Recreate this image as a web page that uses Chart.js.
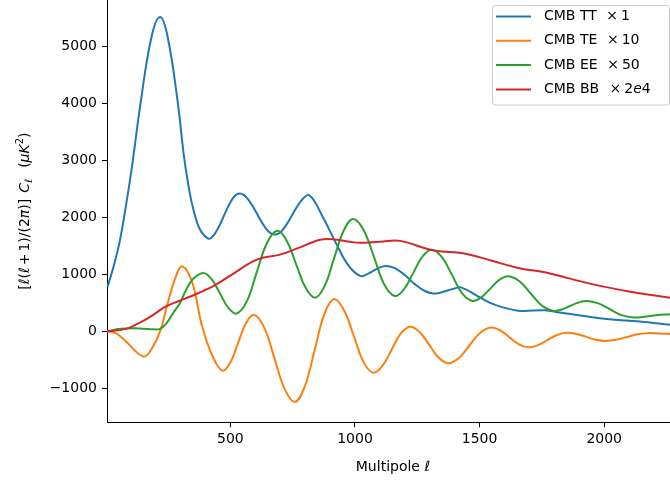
<!DOCTYPE html>
<html><head><meta charset="utf-8">
<script src="https://cdn.jsdelivr.net/npm/chart.js@4.4.0/dist/chart.umd.min.js"></script>
<style>html,body{margin:0;padding:0;background:#fff;overflow:hidden}#wrap{position:relative;width:670px;height:482px}</style>
</head><body><div id="wrap"><canvas id="c" width="670" height="482"></canvas></div>
<script>
const ttEll=[7,30,55,80,104,140,184,218,248,289,321,365,411,442,505,536,572,643,679,713,783,817,873,927,975,1020,1047,1100,1127,1160,1200,1240,1280,1314,1342,1400,1428,1500,1560,1655,1762,1822,2010,2143,2264];
const ttVal=[780,1120,1560,2180,2857,4019,5180,5520,5180,4019,2857,1928,1630,1746,2305,2421,2315,1806,1700,1801,2289,2390,1990,1520,1150,975,1001,1124,1150,1110,990,830,710,665,680,755,770,600,470,365,372,331,216,174,117];
const teEll=[2,40,77,151,185,218,250,280,307,347,386,428,468,500,531,563,595,636,677,718,759,798,838,877,916,955,995,1034,1073,1110,1147,1184,1221,1259,1298,1336,1374,1417,1460,1503,1546,1583,1620,1658,1695,1734,1772,1811,1850,1889,1928,1966,2005,2047,2090,2132,2175,2220,2264];
const teVal=[0,-30,-160,-441,-300,0,520,950,1144,860,100,-430,-690,-546,-200,147,291,67,-473,-1013,-1237,-972,-333,305,570,380,-77,-535,-725,-607,-321,-36,82,-12,-237,-463,-557,-465,-243,-22,70,19,-104,-228,-279,-242,-152,-62,-25,-46,-96,-147,-168,-148,-99,-50,-30,-35,-45];
const eeEll=[2,60,120,180,218,245,270,298,320,350,391,424,458,491,525,566,606,647,688,726,764,802,840,878,916,955,993,1035,1077,1118,1160,1197,1234,1271,1308,1349,1390,1430,1471,1507,1543,1579,1615,1660,1705,1751,1796,1830,1863,1897,1930,1977,2023,2070,2117,2160,2210,2264];
const eeVal=[0,45,57,40,45,150,320,500,710,920,1028,923,671,418,314,527,1040,1553,1766,1594,1179,765,593,795,1284,1772,1975,1777,1298,820,622,741,1028,1316,1435,1303,985,667,535,599,752,906,970,881,665,449,360,386,447,509,535,492,389,286,244,258,285,303];
const bbEll=[2,77,131,184,238,291,345,431,500,606,699,779,873,970,1020,1100,1181,1308,1448,1550,1655,1762,1850,1956,2100,2264];
const bbVal=[0,40,140,273,430,530,622,796,980,1261,1348,1475,1620,1580,1555,1575,1590,1430,1360,1240,1115,1040,940,826,700,593];

const seriesNames=['CMB TT','CMB TE','CMB EE','CMB BB'];
const seriesFactors=['1','10','50','2e4'];
const seriesColors=['#1f77b4','#ff7f0e','#2ca02c','#d62728'];
const xTicks=[500,1000,1500,2000];
const yTicks=[-1000,0,1000,2000,3000,4000,5000];
const xTitle='Multipole';
const FONT='"DejaVu Sans"';
const FS=14;

function pts(e,v){return e.map((x,i)=>({x:x,y:v[i]}));}
const allData=[pts(ttEll,ttVal),pts(teEll,teVal),pts(eeEll,eeVal),pts(bbEll,bbVal)];

function seg(ctx,t,it,sz){ctx.font=(it?'italic ':'')+sz+'px '+FONT;return ctx.measureText(t).width;}
// segment: [text, italic, size, dy, extraAfter]
function drawSegs(ctx,segs,x,y){
  let cx=x;
  for(const s of segs){const sz=s[2]||FS;ctx.font=(s[1]?'italic ':'')+sz+'px '+FONT;ctx.fillText(s[0],cx,y+(s[3]||0));cx+=ctx.measureText(s[0]).width+(s[4]||0);}
  return cx-x;
}
function widthSegs(ctx,segs){let w=0;for(const s of segs){w+=seg(ctx,s[0],s[1],s[2]||FS)+(s[4]||0);}return w;}

const overlay={id:'overlay',afterDraw(chart){
  const ctx=chart.ctx;const ca=chart.chartArea;
  ctx.save();
  ctx.fillStyle='#000';ctx.textBaseline='alphabetic';ctx.textAlign='left';
  // x title
  const xs=[[xTitle+' ',false],['\u2113',true]];
  const xw=widthSegs(ctx,xs);
  drawSegs(ctx,xs,393-xw/2,470.5);
  // y title
  const ys=[['[',false],['\u2113',true],['(',false],['\u2113',true,FS,0,2],['+',false,FS,0,2],['1)/(2',false],['\u03c0',true],[')]',false,FS,0,6],['C',true],['\u2113',true,10,3,11],['(',false],['\u03bcK',true],['2',false,10,-6],[')',false]];
  const yw=widthSegs(ctx,ys);
  ctx.translate(28.5,(ca.top+ca.bottom)/2);ctx.rotate(-Math.PI/2);
  drawSegs(ctx,ys,-yw/2,0);
  ctx.setTransform(1,0,0,1,0,0);
  // legend
  const bx=492.5,by=5.5,bw=177,bh=99.5,r=3;
  ctx.beginPath();ctx.roundRect(bx,by,bw,bh,r);ctx.fillStyle='rgba(255,255,255,0.8)';ctx.fill();
  ctx.lineWidth=1;ctx.strokeStyle='#cccccc';ctx.stroke();
  for(let i=0;i<4;i++){
    const yy=16.5+24.3*i;
    ctx.beginPath();ctx.moveTo(496,yy);ctx.lineTo(531,yy);ctx.strokeStyle=seriesColors[i];ctx.lineWidth=2;ctx.stroke();
    ctx.fillStyle='#000';ctx.textBaseline='middle';
    const w=seg(ctx,seriesNames[i],false,FS);
    ctx.fillText(seriesNames[i],544,yy);
    const f=seriesFactors[i];
    const long=f.length>2;
    const fs=[['\u00d7',false,FS,0,3]];
    if(long){fs.push(['2',false],['e',true],['4',false]);}else{fs.push([f,false]);}
    drawSegs(ctx,fs,544+w+(long?10.5:9.6),yy);
  }
  ctx.restore();
}};

new Chart(document.getElementById('c'),{
  type:'line',
  data:{datasets:allData.map((d,i)=>({label:seriesNames[i],data:d,borderColor:seriesColors[i],backgroundColor:seriesColors[i],borderWidth:2,pointRadius:0,fill:false,tension:0.4,order:3-i}))},
  options:{
    responsive:false,animation:false,events:[],
    layout:{padding:0},
    plugins:{legend:{display:false},tooltip:{enabled:false}},
    scales:{
      x:{type:'linear',min:5,max:2264,
        afterBuildTicks:s=>{s.ticks=xTicks.map(v=>({value:v}));},
        afterFit:s=>{s.height=59.7;s.paddingLeft=0;s.paddingRight=0;},
        grid:{display:true,drawOnChartArea:false,drawTicks:true,tickLength:5,tickColor:'#000',tickWidth:1},
        border:{display:true,color:'#000',width:1},
        ticks:{font:{family:'DejaVu Sans',size:FS},color:'#000',padding:4,maxRotation:0,autoSkip:false,callback:v=>String(v)}},
      y:{type:'linear',min:-1596,max:5820,
        afterBuildTicks:s=>{s.ticks=yTicks.map(v=>({value:v}));},
        afterFit:s=>{s.width=107;s.paddingTop=0;s.paddingBottom=0;},
        grid:{display:true,drawOnChartArea:false,drawTicks:true,tickLength:5,tickColor:'#000',tickWidth:1},
        border:{display:true,color:'#000',width:1},
        ticks:{font:{family:'DejaVu Sans',size:FS},color:'#000',padding:5,autoSkip:false,callback:v=>v<0?'\u2212'+Math.abs(v):String(v)}}
    }
  },
  plugins:[overlay]
});
</script></body></html>
